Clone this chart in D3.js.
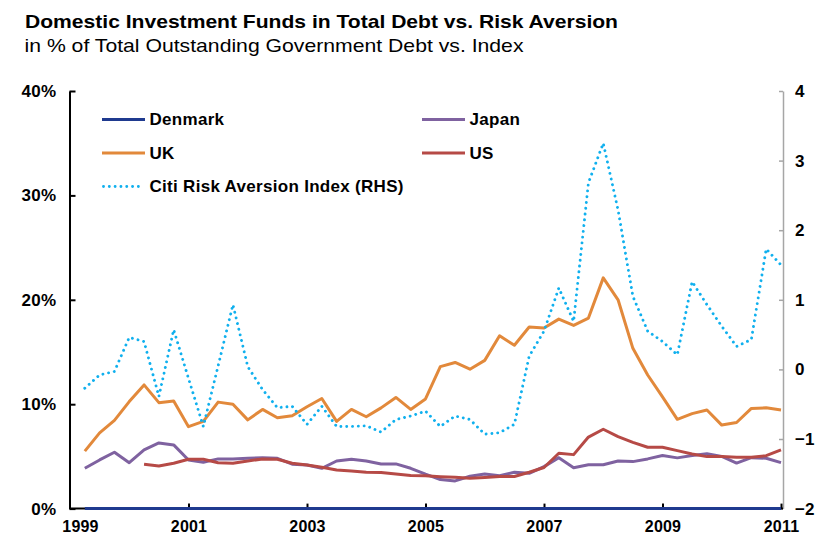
<!DOCTYPE html>
<html>
<head>
<meta charset="utf-8">
<script src="https://cdn.jsdelivr.net/npm/d3@7"></script>
<style>
  html, body { margin: 0; padding: 0; background: #ffffff; }
  svg { display: block; font-family: "Liberation Sans", Arial, sans-serif; }
</style>
</head>
<body>
<svg id="chart" width="816" height="543"></svg>
<script>
// Quarter-end observations, 1999 Q1 – 2010 Q4
const quarters = [
  "1999-03","1999-06","1999-09","1999-12","2000-03","2000-06","2000-09","2000-12",
  "2001-03","2001-06","2001-09","2001-12","2002-03","2002-06","2002-09","2002-12",
  "2003-03","2003-06","2003-09","2003-12","2004-03","2004-06","2004-09","2004-12",
  "2005-03","2005-06","2005-09","2005-12","2006-03","2006-06","2006-09","2006-12",
  "2007-03","2007-06","2007-09","2007-12","2008-03","2008-06","2008-09","2008-12",
  "2009-03","2009-06","2009-09","2009-12","2010-03","2010-06","2010-09","2010-12"
];

// Domestic investment funds, % of total outstanding government debt
const denmark = [
  0,0,0,0,0,0,0,0, 0,0,0,0,0,0,0,0, 0,0,0,0,0,0,0,0,
  0,0,0,0,0,0,0,0, 0,0,0,0,0,0,0,0, 0,0,0,0,0,0,0,0
];
const japan = [
  3.86,4.66,5.40,4.40,5.62,6.29,6.10,4.66,4.44,4.76,
  4.76,4.82,4.88,4.82,4.25,4.18,3.86,4.56,4.73,4.56,
  4.28,4.28,3.86,3.30,2.78,2.65,3.10,3.32,3.15,3.48,
  3.38,4.02,4.88,3.92,4.20,4.20,4.56,4.50,4.76,5.08,
  4.86,5.08,5.25,5.00,4.36,4.88,4.82,4.40
];
const uk = [
  5.50,7.25,8.45,10.25,11.85,10.15,10.30,7.85,8.35,10.20,
  10.00,8.50,9.50,8.70,8.90,9.75,10.55,8.35,9.50,8.80,
  9.65,10.65,9.50,10.50,13.60,14.00,13.35,14.20,16.55,15.65,
  17.40,17.30,18.15,17.55,18.25,22.10,20.00,15.35,12.80,10.70,
  8.55,9.10,9.45,8.00,8.25,9.60,9.65,9.45
];
const us = [
  null,null,null,null,4.25,4.08,4.34,4.72,4.72,4.40,
  4.34,4.56,4.76,4.73,4.34,4.18,3.96,3.70,3.60,3.48,
  3.45,3.32,3.18,3.15,3.06,3.00,2.90,2.98,3.08,3.08,
  3.48,3.94,5.30,5.17,6.85,7.60,6.90,6.35,5.88,5.88,
  5.55,5.23,4.98,4.98,4.92,4.92,5.07,5.62
];
// Citi Risk Aversion Index (right-hand scale)
const riskIndex = [
  -0.27,-0.08,-0.03,0.46,0.40,-0.39,0.57,-0.13,-0.82,0.05,
  0.93,0.04,-0.29,-0.55,-0.53,-0.79,-0.53,-0.82,-0.82,-0.81,
  -0.90,-0.72,-0.67,-0.60,-0.82,-0.67,-0.72,-0.93,-0.91,-0.79,
  0.19,0.55,1.17,0.69,2.68,3.25,2.29,1.05,0.55,0.40,
  0.21,1.26,0.93,0.62,0.33,0.43,1.73,1.50
];

const leftTicks = [0, 10, 20, 30, 40];
const rightTicks = [-2, -1, 0, 1, 2, 3, 4];
const yearTicks = [1999, 2001, 2003, 2005, 2007, 2009, 2011];

const titleText = "Domestic Investment Funds in Total Debt vs. Risk Aversion";
const subtitleText = "in % of Total Outstanding Government Debt vs. Index";

// ---- layout ----
const plot = { left: 69.5, right: 783, top: 91, bottom: 508.6 };
const colors = {
  denmark: "#1f3a8f",
  japan: "#7f62a0",
  uk: "#e2893b",
  us: "#b64a46",
  risk: "#10b0ee"
};
const dotDash = "0.01 5.8";

const svg = d3.select("#chart");

// decimal year at the end of each quarter
const toYear = s => {
  const [y, m] = s.split("-").map(Number);
  return y + m / 12;
};
const t = quarters.map(toYear);

const x = d3.scaleLinear().domain([1999, 2011]).range([70, 781]);
const yL = d3.scaleLinear().domain([0, 40]).range([plot.bottom, plot.top]);
const yR = d3.scaleLinear().domain([-2, 4]).range([plot.bottom, plot.top]);

// ---- titles ----
svg.append("text")
  .attr("x", 25).attr("y", 28)
  .attr("font-size", 19).attr("font-weight", "bold").attr("fill", "#000")
  .attr("textLength", 593).attr("lengthAdjust", "spacingAndGlyphs")
  .text(titleText);
svg.append("text")
  .attr("x", 24.5).attr("y", 52)
  .attr("font-size", 19).attr("fill", "#000")
  .attr("textLength", 499).attr("lengthAdjust", "spacingAndGlyphs")
  .text(subtitleText);

// ---- axes ----
const axisFont = (size, spacing) => g => g.selectAll("text")
  .attr("font-size", size).attr("font-weight", "bold").attr("fill", "#000")
  .attr("letter-spacing", spacing)
  .attr("font-family", "Liberation Sans, Arial, sans-serif");

// right axis (grey)
const gR = svg.append("g").attr("transform", `translate(${plot.right},0)`)
  .call(d3.axisRight(yR).tickValues(rightTicks).tickSizeInner(-4).tickSizeOuter(0).tickPadding(12)
    .tickFormat(d3.format("d")));
gR.select(".domain").attr("stroke", "#a6a6a6").attr("stroke-width", 1.5);
gR.selectAll(".tick line").attr("stroke", "#a6a6a6").attr("stroke-width", 1.5);
gR.call(axisFont(17, 0));

// left axis (black)
const gL = svg.append("g").attr("transform", `translate(${plot.left},0)`)
  .call(d3.axisLeft(yL).tickValues(leftTicks).tickSizeInner(-6).tickSizeOuter(0).tickPadding(13)
    .tickFormat(d => d + "%"));
gL.select(".domain").attr("stroke", "#000").attr("stroke-width", 2);
gL.selectAll(".tick line").attr("stroke", "#000").attr("stroke-width", 2);
gL.call(axisFont(17, 0.3));

// bottom axis
const gB = svg.append("g").attr("transform", `translate(0,${plot.bottom})`)
  .call(d3.axisBottom(x).tickValues(yearTicks).tickSizeInner(-5).tickSizeOuter(0).tickPadding(12)
    .tickFormat(d3.format("d")));
gB.select(".domain").remove();
gB.selectAll(".tick line").attr("stroke", "#000").attr("stroke-width", 2);
gB.call(axisFont(16, 0.2));
gB.selectAll(".tick").filter(d => d === 1999).select("line").remove();
gB.selectAll(".tick").filter(d => d === 1999).select("text").attr("dx", 10);
svg.append("line")
  .attr("x1", plot.left).attr("x2", plot.right)
  .attr("y1", plot.bottom).attr("y2", plot.bottom)
  .attr("stroke", "#000").attr("stroke-width", 2);

// ---- series ----
const lineL = d3.line()
  .defined(d => d.v != null)
  .x(d => x(d.t)).y(d => yL(d.v));
const lineR = d3.line()
  .defined(d => d.v != null)
  .x(d => x(d.t)).y(d => yR(d.v));
const pts = arr => arr.map((v, i) => ({ t: t[i], v }));

const series = [
  { key: "denmark", data: denmark, gen: lineL },
  { key: "japan", data: japan, gen: lineL },
  { key: "uk", data: uk, gen: lineL },
  { key: "us", data: us, gen: lineL }
];
series.forEach(s => {
  svg.append("path")
    .datum(pts(s.data))
    .attr("d", s.gen)
    .attr("fill", "none")
    .attr("stroke", colors[s.key])
    .attr("stroke-width", 3)
    .attr("stroke-linejoin", "round");
});
svg.append("path")
  .datum(pts(riskIndex))
  .attr("d", lineR)
  .attr("fill", "none")
  .attr("stroke", colors.risk)
  .attr("stroke-width", 2.9)
  .attr("stroke-linecap", "round")
  .attr("stroke-dasharray", dotDash);

// ---- legend ----
const legendItems = [
  { label: "Denmark", key: "denmark", col: 0, row: 0 },
  { label: "Japan", key: "japan", col: 1, row: 0 },
  { label: "UK", key: "uk", col: 0, row: 1 },
  { label: "US", key: "us", col: 1, row: 1 },
  { label: "Citi Risk Aversion Index (RHS)", key: "risk", col: 0, row: 2, dotted: true }
];
const colX = [102, 422];
const rowY = [119.5, 153, 186.5];
legendItems.forEach(it => {
  const g = svg.append("g").attr("transform", `translate(${colX[it.col]},${rowY[it.row]})`);
  const ln = g.append("line")
    .attr("x1", 0).attr("x2", 43).attr("y1", 0).attr("y2", 0)
    .attr("stroke", colors[it.key]);
  if (it.dotted) {
    ln.attr("stroke-width", 2.9).attr("stroke-linecap", "round").attr("stroke-dasharray", dotDash)
      .attr("x1", 1.5).attr("x2", 42);
  } else {
    ln.attr("stroke-width", 3);
  }
  g.append("text")
    .attr("x", 47.5).attr("y", 0).attr("dy", "0.35em")
    .attr("font-size", 17).attr("font-weight", "bold").attr("fill", "#000")
    .attr("letter-spacing", 0.3)
    .text(it.label);
});
</script>
</body>
</html>
